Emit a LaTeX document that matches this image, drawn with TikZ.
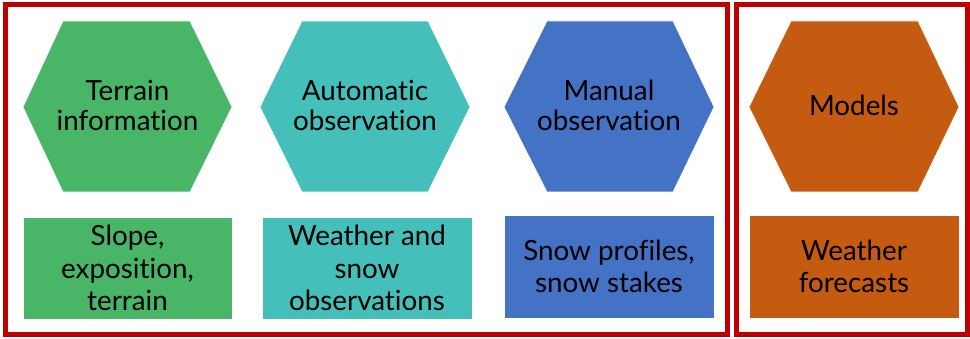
\documentclass[tikz,border=0pt]{standalone}
\usepackage{fontspec}
\setmainfont{Lato}[Ligatures=NoCommon]
\definecolor{cgreen}{HTML}{48B666}
\definecolor{cteal}{HTML}{45BFB9}
\definecolor{cblue}{HTML}{4472C4}
\definecolor{corange}{HTML}{C55A11}
\definecolor{cred}{HTML}{C00000}
\tikzset{
  frame/.style={draw=cred, line width=5pt},
  hexfill/.style={draw=white, line width=0.6pt},
  lbl/.style={align=center, text=black, inner sep=0pt, font=\fontsize{27.8}{29.5}\selectfont},
  boxlbl/.style={align=center, text=black, inner sep=0pt, font=\fontsize{27.8}{32.5}\selectfont},
  boxfill/.style={draw=white, line width=0.6pt},
}
\newcommand{\hexat}[6]{% xl, xr, xtl, xtr, fill colour, name
  \path[hexfill, fill=#5] (#1,107) -- (#3,21) -- (#4,21) -- (#2,107) -- (#4,192) -- (#3,192) -- cycle;
  \coordinate (#6) at ({(#1+#2)/2},105.5);
}
\begin{document}
\begin{tikzpicture}[x=1pt,y=-1pt]
\useasboundingbox (0,0) rectangle (970,339);
\fill[white] (0,0) rectangle (970,339);
% frames
\draw[frame] (5,5) rectangle (727,334.5);
\draw[frame] (736,5) rectangle (967.5,334.5);
% hexagons
\hexat{23}{232}{63}{190}{cgreen}{h1}
\hexat{260}{470}{302}{428}{cteal}{h2}
\hexat{504}{714}{547}{673}{cblue}{h3}
\hexat{749}{959}{791}{918}{corange}{h4}
\node[lbl] (t1) at (h1) {Terrain\\information};
\node[lbl] (t2) at (h2) {Automatic\\observation};
\node[lbl] (t3) at (h3) {Manual\\observation};
\node[lbl] (t4) at (h4) {Models};
% boxes
\path[boxfill, fill=cgreen] (23,217) rectangle (232,319);
\path[boxfill, fill=cteal] (262,217) rectangle (472,319);
\path[boxfill, fill=cblue] (504,215) rectangle (714,318);
\path[boxfill, fill=corange] (749,215) rectangle (959,318);
\node[boxlbl] (b1) at (127.5,268) {Slope,\\exposition,\\terrain};
\node[boxlbl] (b2) at (367,268) {Weather and\\snow\\observations};
\node[boxlbl] (b3) at (609,266.5) {Snow profiles,\\snow stakes};
\node[boxlbl] (b4) at (854,266.5) {Weather\\forecasts};
\end{tikzpicture}
\end{document}
